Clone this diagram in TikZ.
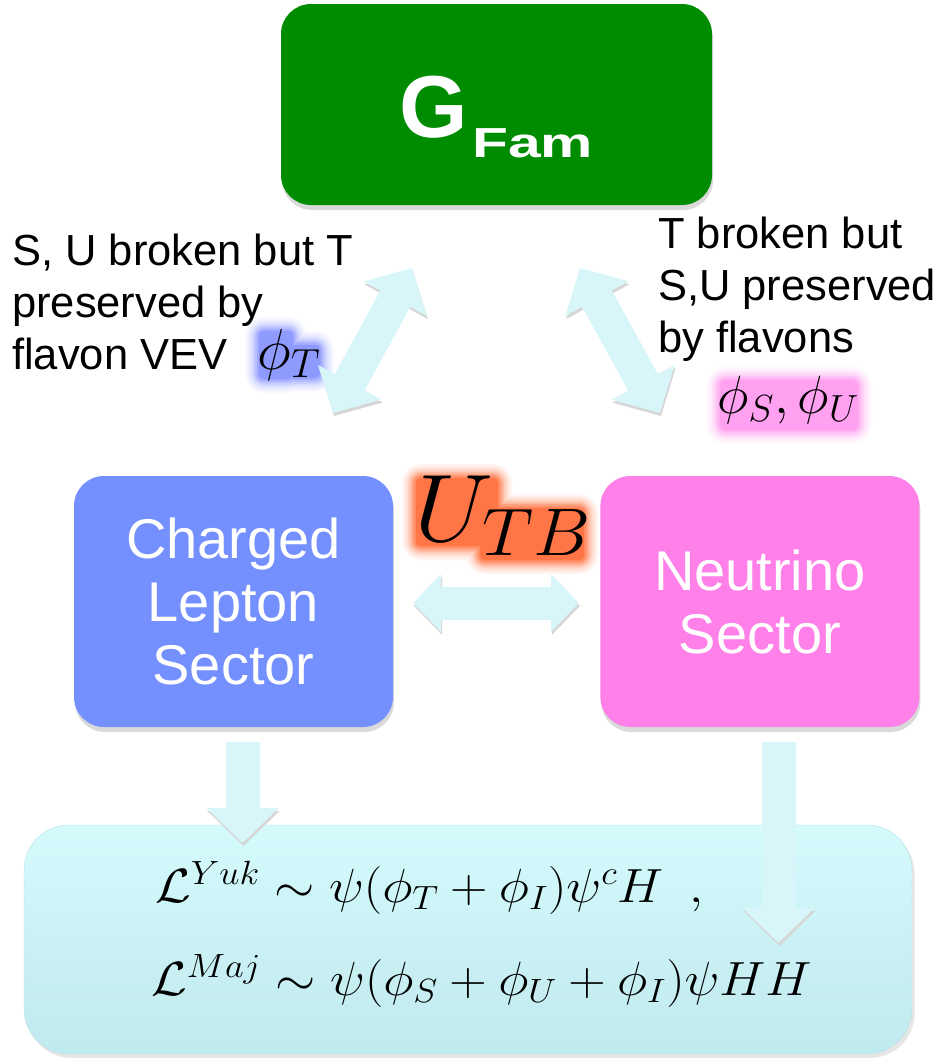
\RequirePackage{fix-cm}
\documentclass[tikz,border=0pt]{standalone}
\usepackage[no-math]{fontspec}
\setmainfont{Liberation Sans}
\usetikzlibrary{positioning, shadows, arrows.meta, backgrounds}

\definecolor{famgreen}{RGB}{0,140,0}
\definecolor{chargedblue}{RGB}{116,144,255}
\definecolor{neutrinopink}{RGB}{255,128,232}
\definecolor{arrowcyan}{RGB}{216,246,249}
\definecolor{boxtop}{RGB}{212,250,252}
\definecolor{boxbottom}{RGB}{193,234,238}
\definecolor{boxedge}{RGB}{182,226,231}
\definecolor{glowOrange}{RGB}{255,95,40}
\definecolor{glowBlue}{RGB}{95,110,255}
\definecolor{glowPink}{RGB}{255,120,235}

% glow steps, outside in: extent / strength
\def\softglow{14/4,12/9,10/15,8/23,6/33,4/45,2/58,0/70}
\def\hotglow{14/6,12/12,10/20,8/30,6/43,4/58,2/72,0/86}

\tikzstyle{base} = [rectangle, rounded corners=30pt, inner sep=0pt, align=center, text=white,
 drop shadow={shadow xshift=1pt, shadow yshift=-5pt, opacity=0.3}]
\tikzstyle{sector} = [base, minimum width=319pt, minimum height=251pt, font={\fontsize{56}{63}\selectfont}]
\tikzstyle{famgroup} = [base, fill=famgreen, minimum width=431pt, minimum height=201pt,
 text height=75pt, text depth=10pt, font=\bfseries]
\tikzstyle{lagbox} = [rectangle, rounded corners=45pt, minimum width=888pt, minimum height=229pt,
 top color=boxtop, bottom color=boxbottom, draw=boxedge, drop shadow={shadow yshift=-4pt, opacity=0.2}]
\tikzstyle{remark} = [inner sep=0pt, align=left, font={\fontsize{43.5}{52}\selectfont}]
\tikzstyle{lagterm} = [inner sep=0pt, anchor=base west, font={\fontsize{48}{48}\selectfont}]
\tikzstyle{fat} = [line width=34pt, draw=arrowcyan,
 preaction={draw=black!16, transform canvas={shift={(1pt,-3pt)}}}]
\tikzset{fathead/.tip={Triangle[width=70pt,length=35pt]},
 midhead/.tip={Triangle[width=56pt,length=28pt]}}

\begin{document}
\begin{tikzpicture}[x=1pt, y=-1pt]
\useasboundingbox (0,0) rectangle (942,1058);

\node (lagr) [lagbox] at (468,939.5) {};
\node (gfam) [famgroup] at (496.5,104.5)
 {{\fontsize{88}{88}\selectfont G}\hspace{4pt}\raisebox{-20pt}{\fontsize{42}{42}\selectfont\scalebox{1.4}[1]{Fam}}};
\node (charged) [sector, fill=chargedblue] at (233.5,601.5) {Charged\\Lepton\\Sector};
\node (neutrino) [sector, fill=neutrinopink, right=207pt of charged] {Neutrino\\Sector};

\node (brokenSU) [remark, anchor=north west] at (12,234) {S, U broken but T\\preserved by\\flavon VEV};
\node (phiT) [inner sep=0pt, anchor=base west, font={\fontsize{58}{58}\selectfont}] at (257,369) {$\phi_T$};
\node (brokenT) [remark, anchor=north west] at (658,217) {T broken but\\S,U preserved\\by flavons};
\node (phisu) [inner sep=0pt, anchor=base, font={\fontsize{54}{54}\selectfont}] at (788,413) {$\phi_S,\phi_U$};
\node (utb) [inner sep=0pt, anchor=base west, font={\fontsize{96}{96}\selectfont}] at (414,541)
 {\scalebox{1.07}[1]{$U_{TB}$}};

% glows behind the flavon labels and U_TB
\begin{scope}[on background layer]
\foreach \gx/\gk in \softglow
  \fill[glowBlue!\gk, rounded corners=\gx pt+5pt]
   (259-\gx,331-\gx) rectangle (293+\gx,379+\gx)
   (289-\gx,345-\gx) rectangle (320+\gx,378+\gx);
\foreach \gx/\gk in \softglow
  \fill[glowPink!\gk, rounded corners=\gx pt+6pt]
   (720-\gx,380-\gx) rectangle (858+\gx,430+\gx);
\foreach \gx/\gk in \hotglow
  \fill[glowOrange!\gk, rounded corners=\gx pt+5pt]
   (416-\gx,478-\gx) rectangle (498+\gx,546+\gx)
   (480-\gx,508-\gx) rectangle (584+\gx,560+\gx);
\end{scope}

\coordinate (ulA) at (333,413);
\coordinate (ulB) at (412,268);
\coordinate (urA) at (580,268);
\coordinate (urB) at (660,413);
\coordinate (midA) at (413,603);
\coordinate (midB) at (579,603);
\coordinate (clOut) at (242.5,742);
\coordinate (clIn) at (242.5,843);
\coordinate (nuOut) at (778.5,742);
\coordinate (nuIn) at (778.5,943);

\draw [fat, fathead-fathead] (ulA) -- (ulB);
\draw [fat, fathead-fathead] (urA) -- (urB);
\draw [fat, line width=33pt, midhead-midhead] (midA) -- (midB);
\draw [fat, -fathead] (clOut) -- (clIn);
\draw [fat, -fathead] (nuOut) -- (nuIn);

\node (eqYuk) [lagterm] at (155,902)
 {\scalebox{1.08}[1]{$\mathcal{L}^{Yuk}\sim\psi(\phi_T+\phi_I)\psi^cH\enspace,$}};
\node (eqMaj) [lagterm] at (151,995)
 {\scalebox{1.08}[1]{$\mathcal{L}^{Maj}\sim\psi(\phi_S+\phi_U+\phi_I)\psi HH$}};

\end{tikzpicture}
\end{document}
